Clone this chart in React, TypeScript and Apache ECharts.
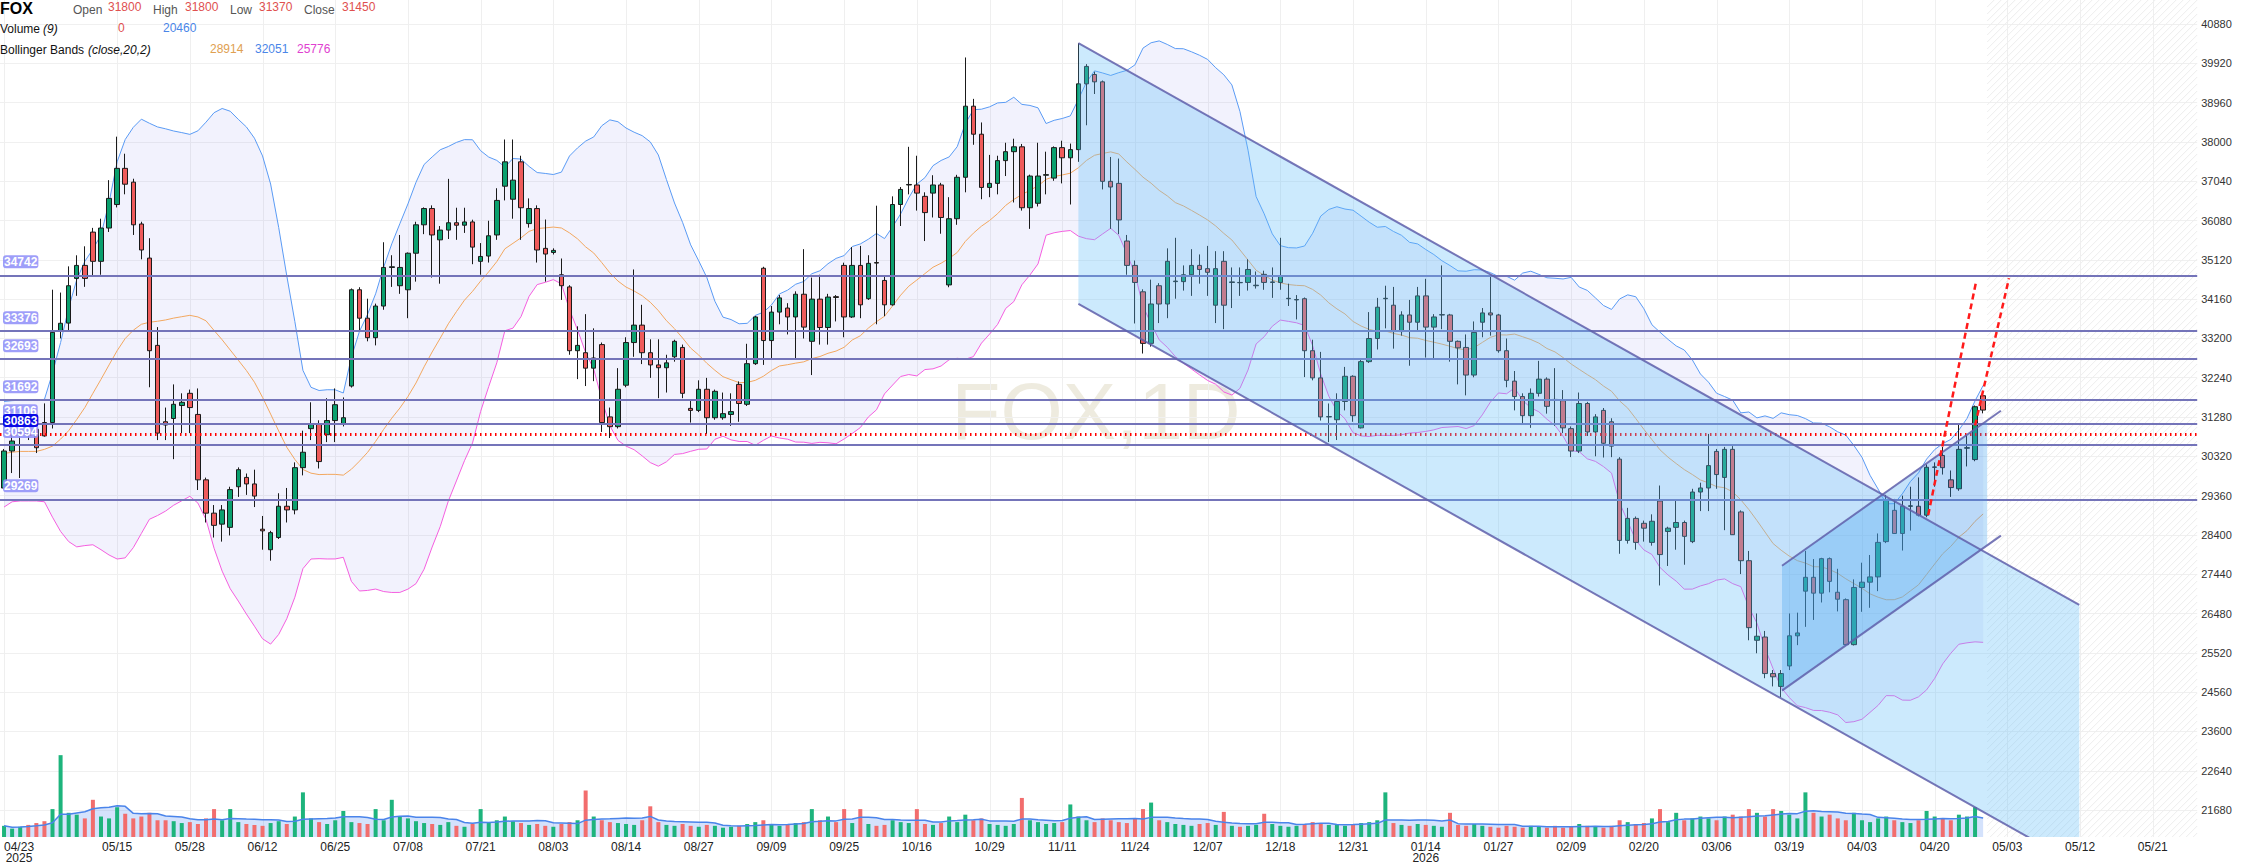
import React, { useEffect, useRef } from "react";
import * as echarts from "echarts";

// ---------------- data ----------------
const opens = [
  29546, 30450, 30900, 30880, 30980, 31146, 31146, 33370, 33574, 34666,
  34983, 35797, 35083, 35896, 36470, 37354, 37017, 35995, 35162, 33030,
  31165, 31244, 31561, 31859, 31343, 29746, 28932, 28664, 28585, 29577,
  29805, 29646, 28540, 28039, 28337, 29101, 29011, 30043, 30996, 31115,
  30847, 31194, 31115, 32037, 34388, 33694, 33218, 33991, 34934, 34487,
  34388, 35281, 35975, 36372, 35608, 35846, 36025, 35965, 36045, 35083,
  35212, 35727, 36918, 36600, 37513, 36005, 36372, 35400, 35300, 34755,
  34458, 32900, 32851, 32474, 33049, 31283, 31045, 32057, 33099, 33525,
  32851, 32553, 32484, 32751, 32980, 31491, 31442, 31958, 31263, 31263,
  31343, 32077, 31591, 32583, 34914, 33148, 33843, 33942, 33724, 34279,
  33129, 34160, 33466, 34220, 34983, 33724, 34983, 34170, 35053, 34616,
  34021, 36471, 36948, 36948, 36670, 36749, 36948, 34507, 36124, 37136,
  38872, 38188, 36888, 36987, 37543, 37761, 37880, 36392, 36501, 37186,
  37116, 37860, 37612, 37811, 39418, 39646, 39467, 37037, 36987, 35579,
  34983, 34339, 33079, 34487, 34041, 34587, 34587, 34755, 34983, 34904,
  34011, 35083, 34567, 34567, 34567, 34487, 34765, 34567, 34567, 34170,
  34140, 34170, 32900, 32236, 31283, 31214, 31660, 32275, 31016, 32633,
  33198, 34170, 34011, 33367, 33773, 33595, 34239, 33476, 33773, 33773,
  33129, 32980, 32305, 33595, 33823, 33773, 32900, 32157, 31780, 31313,
  31859, 32206, 31710, 31680, 30996, 30450, 31610, 30916, 31442, 31164,
  30251, 28267, 28804, 28684, 28218, 29230, 28485, 28585, 28704, 28237,
  29448, 29547, 30440, 29805, 30490, 28962, 27771, 25827, 25907, 25014,
  24700, 25200, 25936, 27027, 27365, 26978, 27821, 27000, 26819, 25720,
  27117, 27246, 27375, 28237, 29001, 28436, 29101, 29101, 28883, 30053,
  30341, 29746, 29527, 30519, 30241, 31800,
];
const highs = [
  30500, 30890, 30990, 30970, 31000, 31613, 34390, 34320, 34960, 35230,
  35450, 35900, 36124, 37066, 38128, 37711, 37100, 36050, 35648, 33476,
  31511, 32077, 31859, 31950, 31978, 29800, 29130, 29130, 29577, 30050,
  29900, 29994, 28863, 28500, 29418, 29547, 30172, 30946, 31640, 31200,
  31740, 31978, 31759, 34420, 34450, 34170, 34050, 35549, 35232, 35727,
  35300, 36050, 36400, 36450, 35945, 37097, 36392, 36392, 36100, 35529,
  36074, 36868, 38059, 38059, 37662, 36620, 36450, 36104, 35400, 35152,
  34500, 33496, 33793, 33446, 33100, 31511, 32474, 33228, 34884, 34021,
  33178, 33178, 32801, 33168, 33050, 31710, 32176, 32236, 31950, 31878,
  31859, 32150, 33069, 33750, 34950, 33991, 34259, 34061, 34350, 35380,
  34686, 34755, 34289, 34259, 35050, 35430, 35460, 35232, 36442, 34700,
  36670, 36898, 37880, 37662, 36769, 37186, 37000, 36650, 37196, 40062,
  39051, 38475, 37682, 37662, 37979, 38078, 37950, 37200, 37979, 37761,
  37890, 38029, 37959, 40410, 39900, 39715, 39500, 37632, 37593, 35727,
  35102, 34400, 34636, 34550, 35400, 35658, 34983, 35380, 35251, 35460,
  35331, 35331, 34934, 34934, 35133, 34835, 34854, 34934, 35658, 34537,
  34259, 34200, 33168, 32871, 31611, 31859, 32504, 32300, 32702, 33843,
  34190, 34487, 34458, 33863, 34140, 34458, 34656, 33793, 34983, 33800,
  33150, 33297, 33615, 33942, 34755, 33800, 33198, 32404, 31859, 31978,
  32652, 32250, 32474, 31938, 31050, 31878, 31650, 31350, 31500, 31250,
  30300, 29061, 28850, 28750, 28903, 29607, 28600, 29230, 28750, 29527,
  29676, 30867, 30500, 30550, 30569, 29000, 28009, 26482, 26055, 25100,
  25100, 26482, 26502, 28009, 27811, 27841, 27850, 27573, 26850, 27315,
  27722, 27910, 28436, 29379, 29280, 29359, 29577, 29805, 30123, 30172,
  30549, 29974, 31085, 30817, 31561, 31800,
];
const lows = [
  29540, 29912, 29790, 30718, 30400, 30800, 31000, 33200, 33400, 34240,
  34460, 34700, 34755, 35800, 36400, 36720, 35727, 35132, 32007, 30717,
  30717, 30251, 30887, 30887, 29497, 28704, 28337, 28237, 28387, 29329,
  29378, 29081, 28039, 27771, 28300, 28704, 28903, 29855, 30717, 30023,
  30668, 30668, 31050, 32000, 33396, 33129, 33030, 33900, 34458, 34289,
  33694, 34587, 35747, 34686, 34537, 35628, 35608, 35777, 35013, 34755,
  35053, 35608, 36571, 36124, 35608, 35906, 35053, 34587, 35250, 34140,
  32801, 32206, 32037, 32156, 30916, 30767, 31000, 32007, 32751, 32573,
  32236, 31740, 31878, 32632, 31740, 31144, 31400, 30867, 31213, 31213,
  31065, 31164, 31550, 32553, 32553, 32702, 33545, 33297, 32702, 33198,
  32305, 33049, 33049, 33615, 33228, 33700, 33694, 34140, 33545, 33743,
  34000, 35946, 36719, 36322, 35578, 36154, 35757, 34450, 35975, 36769,
  37930, 36600, 36650, 36719, 37166, 36521, 36322, 35876, 36422, 36719,
  37050, 36987, 36471, 37513, 38406, 39170, 36839, 35876, 35747, 34755,
  33565, 32831, 33000, 33575, 33694, 34170, 34368, 34239, 34537, 34239,
  33575, 33426, 33942, 34239, 34368, 34418, 34388, 34190, 34388, 33992,
  33664, 32256, 32176, 31194, 30668, 30718, 31442, 31164, 31000, 32600,
  32930, 33446, 32950, 33267, 32533, 33396, 32732, 32702, 33426, 32632,
  32077, 31809, 32250, 33228, 33267, 32851, 32007, 31442, 31085, 31016,
  31780, 31363, 31065, 30887, 30301, 30400, 30817, 30321, 30291, 30300,
  27940, 28188, 28039, 28237, 28138, 27166, 27642, 28039, 27672, 28200,
  28982, 28982, 29527, 28516, 28400, 27444, 25827, 25510, 24900, 24700,
  24441, 25100, 25708, 26155, 26324, 26750, 26998, 26532, 25700, 25700,
  26522, 26620, 27027, 28200, 28430, 28019, 28506, 28850, 28833, 29577,
  29875, 29329, 29478, 30073, 30200, 31370,
];
const closes = [
  30450, 30694, 30950, 30850, 30530, 30819, 33349, 33570, 34487, 34983,
  34666, 35083, 35896, 36620, 37354, 36967, 35975, 35360, 32900, 30887,
  31085, 31591, 31640, 31511, 29746, 28932, 28634, 29011, 29507, 29994,
  29646, 29349, 28500, 28456, 29101, 29011, 30043, 30420, 31115, 30192,
  31194, 31581, 31263, 34388, 33694, 33218, 33991, 34934, 34950, 34934,
  35281, 35975, 36372, 35727, 35846, 36025, 35965, 36045, 35430, 35202,
  35707, 36571, 37513, 37066, 36392, 36372, 35360, 35261, 35350, 34487,
  32900, 33030, 32474, 32722, 31145, 31045, 31958, 33099, 33525, 32851,
  32553, 32484, 32603, 33129, 31859, 31442, 31958, 31263, 31908, 31362,
  31412, 31610, 32583, 33724, 33148, 33843, 34190, 33724, 34279, 33476,
  34160, 33466, 34210, 34200, 33724, 34983, 34021, 35033, 35040, 34021,
  36471, 36839, 36960, 36749, 36273, 36948, 36154, 36124, 37136, 38872,
  38188, 36888, 36987, 37543, 37761, 37880, 36392, 37166, 37166, 37200,
  37860, 37612, 37811, 39418, 39844, 39467, 37037, 36898, 36094, 34983,
  34567, 33079, 34041, 34041, 35083, 34600, 34755, 34983, 34884, 34815,
  34904, 34011, 34580, 34560, 34884, 34500, 34567, 34580, 34716, 34180,
  34150, 32900, 32236, 31283, 31290, 31660, 32275, 31313, 32633, 33198,
  33962, 34180, 33367, 33773, 33595, 34239, 33476, 33724, 33780, 33129,
  32970, 32305, 33347, 33823, 33773, 32900, 32176, 31780, 31313, 31859,
  32206, 31541, 31700, 31016, 30450, 31610, 30916, 31283, 30639, 30569,
  28267, 28804, 28218, 28565, 28734, 27920, 28565, 28704, 28366, 29448,
  29547, 30093, 29875, 30490, 28406, 27771, 26135, 25926, 25014, 24935,
  25014, 25936, 26006, 27365, 26978, 27821, 27266, 26830, 25720, 27117,
  27246, 27375, 28218, 29259, 28436, 29101, 29110, 28883, 30053, 30060,
  30043, 29557, 30490, 30530, 31531, 31450,
];
const volumes = [
  12000, 9000, 11000, 13000, 15000, 17000, 30000, 88000, 26000, 24000,
  20000, 40000, 22000, 20000, 32000, 25000, 20000, 22000, 26000, 18000,
  18000, 17000, 15000, 16000, 14000, 20000, 30000, 18000, 30000, 16000,
  14000, 13000, 12000, 15000, 17000, 14000, 22000, 48000, 20000, 16000,
  14000, 18000, 28000, 16000, 15000, 14000, 30000, 18000, 40000, 22000,
  20000, 17000, 15000, 14000, 13000, 16000, 12000, 11000, 14000, 30000,
  16000, 18000, 22000, 17000, 15000, 13000, 14000, 12000, 11000, 14000,
  16000, 18000, 50000, 22000, 18000, 16000, 15000, 14000, 13000, 18000,
  33000, 16000, 13000, 12000, 14000, 12000, 11000, 13000, 12000, 10000,
  11000, 12000, 14000, 16000, 18000, 14000, 12000, 13000, 15000, 16000,
  30000, 18000, 22000, 16000, 30000, 15000, 30000, 14000, 12000, 13000,
  18000, 16000, 15000, 30000, 14000, 13000, 15000, 22000, 16000, 24000,
  18000, 20000, 14000, 13000, 12000, 14000, 42000, 18000, 16000, 14000,
  15000, 16000, 35000, 22000, 18000, 16000, 20000, 18000, 16000, 15000,
  20000, 30000, 37000, 18000, 16000, 14000, 13000, 12000, 14000, 15000,
  13000, 27000, 12000, 11000, 12000, 13000, 25000, 14000, 12000, 11000,
  12000, 14000, 16000, 15000, 13000, 14000, 12000, 13000, 15000, 16000,
  18000, 48000, 15000, 13000, 12000, 14000, 13000, 12000, 11000, 26000,
  13000, 12000, 14000, 12000, 11000, 10000, 12000, 11000, 10000, 12000,
  11000, 10000, 12000, 10000, 11000, 14000, 12000, 11000, 10000, 12000,
  18000, 16000, 14000, 15000, 20000, 30000, 16000, 26000, 18000, 20000,
  22000, 20000, 18000, 22000, 24000, 22000, 30000, 26000, 22000, 30000,
  28000, 24000, 20000, 48000, 26000, 22000, 24000, 20000, 18000, 26000,
  18000, 16000, 20000, 22000, 18000, 16000, 15000, 18000, 28000, 22000,
  20000, 18000, 24000, 22000, 32140, 0,
];
// Bollinger values of the first 19 bars (their 20-bar window starts before the chart)
const bbUpperLead = [31660, 31680, 31690, 31700, 31700, 31710, 32355, 33099, 33942, 34636, 35083, 35380, 35727, 36521, 37513, 38059, 38356, 38555, 38455];
const bbMidLead = [30390, 30420, 30440, 30440, 30440, 30490, 30569, 30740, 30946, 31220, 31511, 31859, 32200, 32553, 32900, 33198, 33400, 33545, 33595];
const bbLowerLead = [29081, 29210, 29230, 29230, 29230, 29210, 28833, 28486, 28238, 28109, 28140, 28160, 28040, 27910, 27812, 27840, 28089, 28436, 28783];

const xTickIndex = [0, 14, 23, 32, 41, 50, 59, 68, 77, 86, 95, 104, 113, 122, 131, 140, 149, 158, 167, 176, 185, 194, 203, 212, 221, 230, 239, 248, 257, 266];
const xTickLabels = ["04/23", "05/15", "05/28", "06/12", "06/25", "07/08", "07/21", "08/03", "08/14", "08/27", "09/09", "09/25", "10/16", "10/29", "11/11", "11/24", "12/07", "12/18", "12/31", "01/14", "01/27", "02/09", "02/20", "03/06", "03/19", "04/03", "04/20", "05/03", "05/12", "05/21"];
const xTickYears = ["2025", "", "", "", "", "", "", "", "", "", "", "", "", "", "", "", "", "", "", "2026", "", "", "", "", "", "", "", "", "", ""];
const yTickValues = [21680, 22640, 23600, 24560, 25520, 26480, 27440, 28400, 29360, 30320, 31280, 32240, 33200, 34160, 35120, 36080, 37040, 38000, 38960, 39920, 40880];

const levelPrices = [34742, 33376, 32693, 31692, 31106, 30594, 29269];
const selectedLevel = 30863;

// drawings: [bar index, price]
const descChannelX = [133, 256.9];
const descChannelUpper = [40411, 26689];
const descChannelLower = [34041, 20319];
const ascChannelX = [220.1, 247.2];
const ascChannelUpper = [27646, 31434];
const ascChannelLower = [24596, 28384];
const dashLineAX = [238.2, 244.1];
const dashLineAP = [28887, 34558];
const dashLineBX = [244.0, 248.2];
const dashLineBP = [31073, 34668];

const TOTAL_SLOTS = 272;
const FONT = '"Liberation Sans", Arial, sans-serif';

function bollinger() {
  const up: number[] = [], mid: number[] = [], low: number[] = [];
  for (let i = 0; i < closes.length; i++) {
    if (i < 19) {
      up.push(bbUpperLead[i]); mid.push(bbMidLead[i]); low.push(bbLowerLead[i]);
      continue;
    }
    const w = closes.slice(i - 19, i + 1);
    const m = w.reduce((a, b) => a + b, 0) / 20;
    const sd = Math.sqrt(w.reduce((a, b) => a + (b - m) * (b - m), 0) / 20);
    up.push(m + 2 * sd); mid.push(m); low.push(m - 2 * sd);
  }
  return { up, mid, low };
}

function movingAvg(arr: number[], n: number) {
  return arr.map((_, i) => {
    const s = arr.slice(Math.max(0, i - n + 1), i + 1);
    return s.reduce((a, b) => a + b, 0) / s.length;
  });
}

const lerp = (xs: number[], ps: number[], x: number) => ps[0] + ((ps[1] - ps[0]) * (x - xs[0])) / (xs[1] - xs[0]);

export default function App() {
  const ref = useRef<HTMLDivElement>(null);
  useEffect(() => {
    const chart = echarts.init(ref.current!, null, { renderer: "svg" });
    const n = closes.length;
    const cats = Array.from({ length: TOTAL_SLOTS }, (_, i) => String(i));
    const bb = bollinger();
    const volMA = movingAvg(volumes, 9);
    const candleData = closes.map((c, i) => [opens[i], c, lows[i], highs[i]]);
    const volData = volumes.map((v, i) => ({
      value: v,
      itemStyle: { color: closes[i] >= opens[i] ? "#1db47c" : "#f26d6d" },
    }));
    const futureStart = n - 0.5;

    const ptFn = (api: any) => {
      const w = api.size([1, 0])[0];
      return (i: number, p: number) => {
        const c = api.coord([0, p]);
        return [c[0] + i * w, c[1]];
      };
    };

    const backdrop = (params: any, api: any) => {
      const cs = params.coordSys;
      const pt = ptFn(api);
      const children: any[] = [];
      const x0 = pt(futureStart, 30000)[0];
      const x1 = cs.x + cs.width;
      const y0 = cs.y;
      const y1 = cs.y + cs.height;
      for (let c = x0 + y0; c <= x1 + y1; c += 7) {
        const xa = Math.max(x0, c - y1);
        const xb = Math.min(x1, c - y0);
        if (xa < xb) {
          children.push({ type: "line", shape: { x1: xa, y1: c - xa, x2: xb, y2: c - xb }, style: { stroke: "#ededed", lineWidth: 1 } });
        }
      }
      xTickIndex.forEach((ix) => {
        const x = Math.round(pt(ix, 30000)[0]) + 0.5;
        children.push({ type: "line", shape: { x1: x, y1: y0, x2: x, y2: y1 }, style: { stroke: "#efefef", lineWidth: 1 } });
      });
      return { type: "group", children };
    };

    const drawings = (params: any, api: any) => {
      const pt = ptFn(api);
      const ascEnd = futureStart;
      const children: any[] = [
        {
          type: "polygon",
          shape: { points: [pt(descChannelX[0], descChannelUpper[0]), pt(descChannelX[1], descChannelUpper[1]), pt(descChannelX[1], descChannelLower[1]), pt(descChannelX[0], descChannelLower[0])] },
          style: { fill: "rgba(100,190,250,0.33)" },
        },
        {
          type: "polygon",
          shape: { points: [pt(ascChannelX[0], ascChannelUpper[0]), pt(ascEnd, lerp(ascChannelX, ascChannelUpper, ascEnd)), pt(ascEnd, lerp(ascChannelX, ascChannelLower, ascEnd)), pt(ascChannelX[0], ascChannelLower[0])] },
          style: { fill: "rgba(60,160,240,0.3)" },
        },
      ];
      const lineStyle = { stroke: "rgba(95,95,170,0.85)", lineWidth: 2 };
      const seg = (xs: number[], ps: number[], style: any) => {
        const a = pt(xs[0], ps[0]);
        const b = pt(xs[1], ps[1]);
        children.push({ type: "line", shape: { x1: a[0], y1: a[1], x2: b[0], y2: b[1] }, style });
      };
      seg(descChannelX, descChannelUpper, lineStyle);
      seg(descChannelX, descChannelLower, lineStyle);
      seg(ascChannelX, ascChannelUpper, lineStyle);
      seg(ascChannelX, ascChannelLower, lineStyle);
      const dashStyle = { stroke: "#ff1a1a", lineWidth: 2.5, lineDash: [6, 4] };
      seg(dashLineAX, dashLineAP, dashStyle);
      seg(dashLineBX, dashLineBP, dashStyle);
      return { type: "group", children };
    };

    const levelLabel = (bg: string) => ({
      show: true,
      position: "insideStartTop",
      formatter: (p: any) => String(p.value),
      color: "#fff",
      fontWeight: "bold",
      fontSize: 12,
      fontFamily: FONT,
      backgroundColor: bg,
      padding: [1, 1, 0, 1],
      borderRadius: 3,
      distance: [3, 7],
    });

    const last = n - 1;
    const txt = (x: number, y: number, text: string, fill: string, font: string) => ({
      type: "text",
      x,
      y,
      z: 100,
      style: { text, fill, font, verticalAlign: "middle", textAlign: "left" },
    });
    const f12 = `12px ${FONT}`;
    const fi12 = `italic 12px ${FONT}`;

    const option: any = {
      animation: false,
      backgroundColor: "#ffffff",
      grid: { left: 0, right: 64.8, top: 0, height: 837, outerBoundsMode: "none", containLabel: false },
      xAxis: {
        type: "category",
        data: cats,
        boundaryGap: true,
        axisLine: { show: false },
        axisTick: { show: false },
        splitLine: { show: false },
        axisLabel: {
          interval: 0,
          margin: 4,
          color: "#222",
          fontSize: 12,
          fontFamily: FONT,
          lineHeight: 11.5,
          formatter: (_v: any, idx: number) => {
            const k = xTickIndex.indexOf(idx);
            if (k < 0) return "";
            const t = xTickLabels[k];
            const yr = xTickYears[k];
            if (idx === 0) return `{first|${t}}` + (yr ? `\n{first|${yr}}` : "");
            return yr ? `${t}\n${yr}` : t;
          },
          rich: { first: { padding: [0, 0, 0, 30], fontSize: 12, color: "#222", fontFamily: FONT, lineHeight: 11.5 } },
        },
      },
      yAxis: [
        {
          type: "value",
          position: "right",
          min: 21022,
          max: 41466,
          axisLine: { show: false },
          axisTick: { show: false, customValues: yTickValues },
          axisLabel: { customValues: yTickValues, formatter: (v: number) => String(v), color: "#333", fontSize: 11, fontFamily: FONT, margin: 4 },
          splitLine: { show: true, lineStyle: { color: "#f0f0f0", width: 1 } },
        },
        { type: "value", min: 0, max: 900000, show: false, splitLine: { show: false } },
      ],
      graphic: [
        { type: "text", x: 1096, y: 411, z: 0, silent: true, style: { text: "FOX,1D", fill: "rgba(200,188,150,0.3)", font: `80px ${FONT}`, textAlign: "center", verticalAlign: "middle" } },
        txt(0, 8, "FOX", "#000", `bold 16px ${FONT}`),
        txt(73, 10, "Open", "#555", f12),
        txt(108, 7, String(opens[last]), "#e0504f", f12),
        txt(153, 10, "High", "#555", f12),
        txt(185, 7, String(highs[last]), "#e0504f", f12),
        txt(230, 10, "Low", "#555", f12),
        txt(259, 7, String(lows[last]), "#e0504f", f12),
        txt(304, 10, "Close", "#555", f12),
        txt(342, 7, String(closes[last]), "#e0504f", f12),
        txt(0, 29, "Volume", "#111", f12),
        txt(43, 29, "(9)", "#111", fi12),
        txt(118, 28, String(volumes[last]), "#e0504f", f12),
        txt(163, 28, String(Math.round(volMA[last])), "#4a86e8", f12),
        txt(0, 50, "Bollinger Bands", "#111", f12),
        txt(88, 50, "(close,20,2)", "#111", fi12),
        txt(210, 49, String(Math.round(bb.mid[last])), "#e0a050", f12),
        txt(255, 49, String(Math.round(bb.up[last])), "#4a86e8", f12),
        txt(297, 49, String(Math.round(bb.low[last])), "#e040d0", f12),
      ],
      series: [
        { type: "custom", name: "backdrop", renderItem: backdrop, data: [[0, 30000]], z: 1, silent: true, clip: true },
        { type: "line", name: "bbLower", data: bb.low, stack: "bb", symbol: "none", lineStyle: { color: "#f55fe0", width: 1 }, z: 2, silent: true },
        { type: "line", name: "bbBand", data: bb.up.map((u, i) => u - bb.low[i]), stack: "bb", symbol: "none", lineStyle: { width: 0, opacity: 0 }, areaStyle: { color: "rgba(110,110,235,0.13)" }, z: 2, silent: true },
        { type: "line", name: "bbUpper", data: bb.up, symbol: "none", lineStyle: { color: "#5a9bf5", width: 1 }, z: 2, silent: true },
        { type: "line", name: "bbMid", data: bb.mid, symbol: "none", lineStyle: { color: "#f2a860", width: 1 }, z: 2, silent: true },
        { type: "bar", name: "Volume", data: volData, yAxisIndex: 1, barWidth: 4, z: 3, silent: true },
        { type: "line", name: "VolumeMA", data: volMA, yAxisIndex: 1, symbol: "none", lineStyle: { color: "#4a84ea", width: 1.5 }, areaStyle: { color: "rgba(70,130,240,0.33)" }, z: 3, silent: true },
        {
          type: "candlestick",
          name: "FOX",
          data: candleData,
          barWidth: 5,
          z: 4,
          itemStyle: { color: "#0aa06e", color0: "#ef5b5b", borderColor: "#1a1a1a", borderColor0: "#1a1a1a", borderWidth: 1 },
          markLine: {
            symbol: "none",
            silent: true,
            data: [
              {
                yAxis: closes[last],
                lineStyle: { width: 0, opacity: 0 },
                label: { show: true, position: "end", formatter: String(closes[last]), backgroundColor: "#f06562", color: "#fff", fontWeight: "bold", fontSize: 13, fontFamily: FONT, padding: [3, 12, 2, 12], borderRadius: 2, distance: 1 },
              },
            ],
          },
        },
        { type: "custom", name: "drawings", renderItem: drawings, data: [[0, 30000]], z: 5, silent: true, clip: true },
        {
          type: "line",
          name: "levels",
          data: [],
          z: 6,
          silent: true,
          markLine: {
            symbol: "none",
            silent: true,
            data: [
              ...levelPrices.map((p) => ({ yAxis: p, lineStyle: { color: "#7474b9", width: 2, type: "solid" }, label: levelLabel("rgba(145,145,248,0.88)") })),
              { yAxis: selectedLevel, lineStyle: { color: "#ff0000", width: 3, type: [1.5, 3.5] }, label: levelLabel("#0a0ae6") },
            ],
          },
        },
      ],
    };
    chart.setOption(option);
    return () => chart.dispose();
  }, []);
  return <div ref={ref} style={{ position: "fixed", left: 0, top: 0, width: 2262, height: 865, background: "#fff" }} />;
}
